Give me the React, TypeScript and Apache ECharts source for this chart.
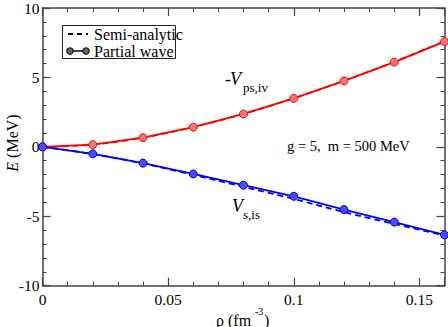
import React, { useEffect, useRef } from "react";
import * as echarts from "echarts";

const rho = [0, 0.02, 0.04, 0.06, 0.08, 0.1, 0.12, 0.14, 0.16];
const pwPs = [0, 0.16, 0.66, 1.42, 2.37, 3.49, 4.75, 6.1, 7.58];
const saPs = [0, 0.17, 0.67, 1.43, 2.38, 3.5, 4.76, 6.12, 7.6];
const pwS = [0, -0.5, -1.17, -1.95, -2.76, -3.56, -4.52, -5.42, -6.34];
const saS = [0, -0.52, -1.2, -2.02, -2.88, -3.75, -4.7, -5.55, -6.38];
const xTicks = [0, 0.05, 0.1, 0.15];
const yTicks = [-10, -5, 0, 5, 10];
const legendNames = ["Semi-analytic", "Partial wave"];

const FAM = "Liberation Serif";
const AX = "#444";

const pair = (xs: number[], ys: number[]) => xs.map((x, i) => [x, ys[i]]);

const txt = (x: number, y: number, text: string, size: number, italic = false) => ({
  type: "text",
  x,
  y,
  style: {
    text,
    font: `${italic ? "italic" : "normal"} normal ${size}px ${FAM}`,
    fill: "#000",
    align: "left",
    verticalAlign: "middle",
  },
});

export default function App() {
  const ref = useRef<HTMLDivElement>(null);
  useEffect(() => {
    if (!ref.current) return;
    const chart = echarts.init(ref.current, undefined, { renderer: "svg" });
    const axisCommon = {
      axisLine: { show: true, onZero: false, lineStyle: { color: AX, width: 1.5 } },
      axisTick: { show: true, inside: true, length: 8, lineStyle: { color: AX, width: 1.2 } },
      minorTick: { show: true, splitNumber: 5, length: 4, lineStyle: { color: AX, width: 1 } },
      splitLine: { show: false },
    };
    const xLabel = {
      show: true,
      color: "#000",
      fontFamily: FAM,
      fontSize: 15.5,
      margin: 6,
      showMaxLabel: false,
      formatter: (v: number) => (xTicks.some((t) => Math.abs(t - v) < 1e-9) ? String(+v.toFixed(2)) : ""),
    };
    const yLabel = {
      show: true,
      color: "#000",
      fontFamily: FAM,
      fontSize: 15.5,
      margin: 3,
      formatter: (v: number) => (yTicks.includes(v) ? String(v) : ""),
    };
    chart.setOption({
      animation: false,
      textStyle: { fontFamily: FAM },
      grid: { left: 42.5, right: 3.5, top: 5, bottom: 41.3 },
      xAxis: [
        { type: "value", min: 0, max: 0.16, interval: 0.05, position: "bottom", axisLabel: xLabel, ...axisCommon },
        { type: "value", min: 0, max: 0.16, interval: 0.05, position: "top", axisLabel: { show: false }, ...axisCommon },
      ],
      yAxis: [
        { type: "value", min: -10, max: 10, interval: 5, position: "left", axisLabel: yLabel, ...axisCommon },
        { type: "value", min: -10, max: 10, interval: 5, position: "right", axisLabel: { show: false }, ...axisCommon },
      ],
      series: [
        {
          name: "ps-pw",
          type: "line",
          data: pair(rho, pwPs),
          symbol: "circle",
          symbolSize: 8,
          z: 3,
          itemStyle: { color: "#f27474", borderColor: "#ee1111", borderWidth: 1 },
          lineStyle: { color: "#ff0000", width: 1.8 },
        },
        {
          name: "ps-sa",
          type: "line",
          data: pair(rho, saPs),
          symbol: "none",
          smooth: true,
          z: 2,
          lineStyle: { color: "#ff0000", width: 1.8, type: [6, 4] },
        },
        {
          name: "s-pw",
          type: "line",
          data: pair(rho, pwS),
          symbol: "circle",
          symbolSize: 8,
          z: 3,
          itemStyle: { color: "#4a4aff", borderColor: "#0000cc", borderWidth: 1 },
          lineStyle: { color: "#0000ff", width: 1.8 },
        },
        {
          name: "s-sa",
          type: "line",
          data: pair(rho, saS),
          symbol: "none",
          smooth: true,
          z: 2,
          lineStyle: { color: "#0000ff", width: 1.8, type: [6, 4] },
        },
      ],
      graphic: [
        { type: "rect", shape: { x: 62.5, y: 25.5, width: 113, height: 33 }, style: { fill: "#fff", stroke: "#222", lineWidth: 1 }, z: 10 },
        { type: "line", shape: { x1: 68, y1: 34, x2: 88, y2: 34 }, style: { stroke: "#000", lineWidth: 2, lineDash: [5, 4] }, z: 11 },
        { type: "line", shape: { x1: 70, y1: 51, x2: 86, y2: 51 }, style: { stroke: "#000", lineWidth: 1.5 }, z: 11 },
        { type: "circle", shape: { cx: 70, cy: 51, r: 3.2 }, style: { fill: "#666", stroke: "#111", lineWidth: 1.2 }, z: 12 },
        { type: "circle", shape: { cx: 86, cy: 51, r: 3.2 }, style: { fill: "#666", stroke: "#111", lineWidth: 1.2 }, z: 12 },
        { ...txt(94, 34, legendNames[0], 16), z: 11 },
        { ...txt(94, 51, legendNames[1], 16), z: 11 },
        {
          type: "text",
          x: 12,
          y: 143,
          rotation: Math.PI / 2,
          style: {
            text: "{e|E}{n| (MeV)}",
            rich: {
              e: { fontFamily: FAM, fontSize: 16, fontStyle: "italic", fill: "#000" },
              n: { fontFamily: FAM, fontSize: 16, fill: "#000" },
            },
            font: `normal normal 16px ${FAM}`,
            fill: "#000",
            align: "center",
            verticalAlign: "middle",
          },
        },
        txt(216, 320, "ρ (fm", 16),
        txt(255, 311, "-3", 10),
        txt(264, 320, ")", 16),
        txt(225, 79, "-", 18),
        txt(230, 79, "V", 18, true),
        txt(243, 87, "ps,iv", 13),
        txt(232, 206, "V", 18, true),
        txt(243, 214, "s,is", 13),
        txt(287, 146, "g = 5,  m = 500 MeV", 14.5),
      ],
    });
    return () => chart.dispose();
  }, []);
  return <div ref={ref} style={{ width: 448, height: 327, position: "absolute", left: 0, top: 0 }} />;
}
